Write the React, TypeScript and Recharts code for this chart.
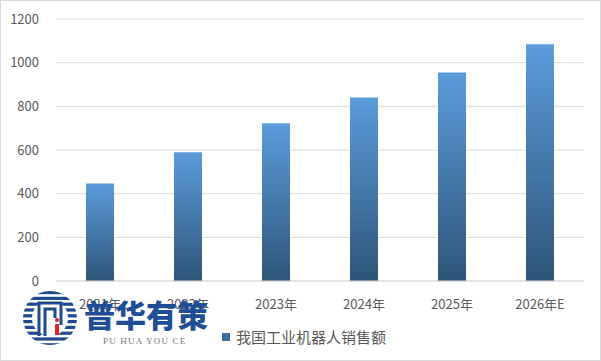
import { BarChart, Bar, XAxis, YAxis, CartesianGrid } from "recharts";

// 我国工业机器人销售额（估算自原图）
const years = ["2021年", "2022年", "2023年", "2024年", "2025年", "2026年E"];
const sales = [446, 590, 723, 841, 955, 1084];
const yTicks = [0, 200, 400, 600, 800, 1000, 1200];
const seriesName = "我国工业机器人销售额";

const data = years.map((year, i) => ({ year, sales: sales[i] }));

const FONT = '"Noto Sans CJK SC", "Liberation Sans", sans-serif';
const GRAY = "#595959";

function LegendBox() {
  return (
    <div
      style={{
        position: "absolute",
        left: 222,
        top: 326,
        display: "flex",
        alignItems: "center",
        fontFamily: FONT,
        fontSize: 15,
        color: GRAY,
        whiteSpace: "nowrap",
      }}
    >
      <span style={{ width: 8, height: 8, background: "#3f6f9f", marginRight: 6, display: "inline-block" }} />
      {seriesName}
    </div>
  );
}

function Logo() {
  // watermark in the lower left corner
  const stripes = [];
  for (let i = 0; i < 10; i++) {
    stripes.push(<rect key={i} x={20} y={291 + i * 5.8} width={60} height={3.2} fill="#1f4a8c" />);
  }
  return (
    <svg width={601} height={361} style={{ position: "absolute", left: 0, top: 0, pointerEvents: "none" }}>
      <defs>
        <clipPath id="logoClip">
          <circle cx={50} cy={318} r={27} />
        </clipPath>
      </defs>
      <g clipPath="url(#logoClip)">{stripes}</g>
      <circle cx={50} cy={318} r={18} fill="#fff" />
      <path d="M39 336 V303 H61 V325" stroke="#1f4a8c" strokeWidth={3} fill="none" />
      <path d="M45 336 V309 H55 V318" stroke="#1f4a8c" strokeWidth={3} fill="none" />
      <rect x={55} y={324} width={4} height={11} fill="#d9262c" />
      <circle cx={57} cy={320} r={2} fill="#d9262c" />
      <text x={84} y={327} fontFamily={FONT} fontWeight={900} fontSize={31} fill="#1f4e96">普华有策</text>
      <text x={103} y={344} fontFamily='"Liberation Serif", serif' fontSize={9} letterSpacing={1.2} fill="#777">
        PU HUA YOU CE
      </text>
    </svg>
  );
}

export default function App() {
  return (
    <div style={{ position: "absolute", left: 0, top: 0, width: 601, height: 361, background: "#fff" }}>
      <div style={{ position: "absolute", left: 0, top: 0, width: 599, height: 359, border: "1px solid #d9d9d9" }} />
      <BarChart width={601} height={361} data={data} margin={{ top: 19, right: 17, bottom: 0, left: 0 }}>
        <defs>
          <linearGradient id="barFill" x1="0" y1="0" x2="0" y2="1">
            <stop offset="0%" stopColor="#5b9cdb" />
            <stop offset="100%" stopColor="#2e5579" />
          </linearGradient>
        </defs>
        <CartesianGrid vertical={false} stroke="#d9d9d9" />
        <XAxis
          dataKey="year"
          height={80}
          axisLine={{ stroke: "#d9d9d9" }}
          tickLine={false}
          tick={{ fill: GRAY, fontSize: 13, fontFamily: FONT }}
          tickMargin={13}
        />
        <YAxis
          width={56}
          domain={[0, 1200]}
          ticks={yTicks}
          axisLine={false}
          tickLine={false}
          tick={{ fill: GRAY, fontSize: 13, fontFamily: FONT }}
          tickMargin={11}
        />
        <Bar dataKey="sales" name={seriesName} fill="url(#barFill)" barSize={28} isAnimationActive={false} />
      </BarChart>
      <LegendBox />
      <Logo />
    </div>
  );
}
